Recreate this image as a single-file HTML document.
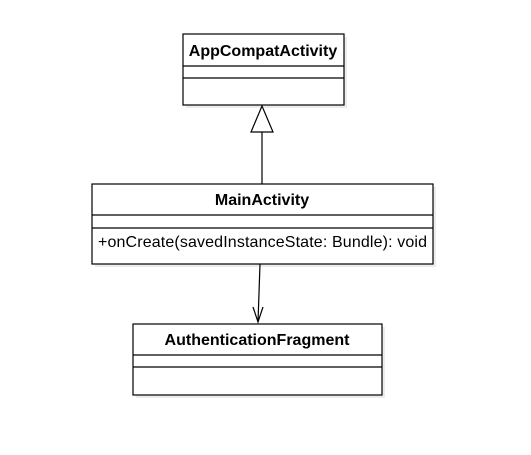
<!DOCTYPE html>
<html><head><style>body{margin:0;background:#fff}</style></head><body>
<svg width="531" height="450" xmlns="http://www.w3.org/2000/svg" font-family="Liberation Sans, Arial, sans-serif" font-size="16">
<g fill="#ececec">
<rect x="186" y="37" width="161" height="71"/>
<rect x="95" y="187" width="341" height="80"/>
<rect x="136" y="327" width="249" height="71"/>
</g>
<g fill="#fff" stroke="#000" stroke-width="1.2">
<rect x="183" y="34" width="161" height="71"/>
<line x1="183" y1="66" x2="344" y2="66"/><line x1="183" y1="78" x2="344" y2="78"/>
<rect x="92" y="184" width="341" height="80"/>
<line x1="92" y1="215" x2="433" y2="215"/><line x1="92" y1="228" x2="433" y2="228"/>
<rect x="133" y="324" width="249" height="71"/>
<line x1="133" y1="355" x2="382" y2="355"/><line x1="133" y1="367" x2="382" y2="367"/>
<line x1="262" y1="132" x2="262" y2="184"/>
<polygon points="262,106 251,132 273,132"/>
<line x1="260" y1="264" x2="258" y2="322" fill="none"/>
<polyline points="253,307 258,322 263,307" fill="none"/>
</g>
<g text-anchor="middle" font-weight="bold">
<text x="263" y="56">AppCompatActivity</text>
<text x="262" y="205">MainActivity</text>
<text x="257" y="345">AuthenticationFragment</text>
</g>
<text x="98" y="247" textLength="329">+onCreate(savedInstanceState: Bundle): void</text>
</svg>
</body></html>
